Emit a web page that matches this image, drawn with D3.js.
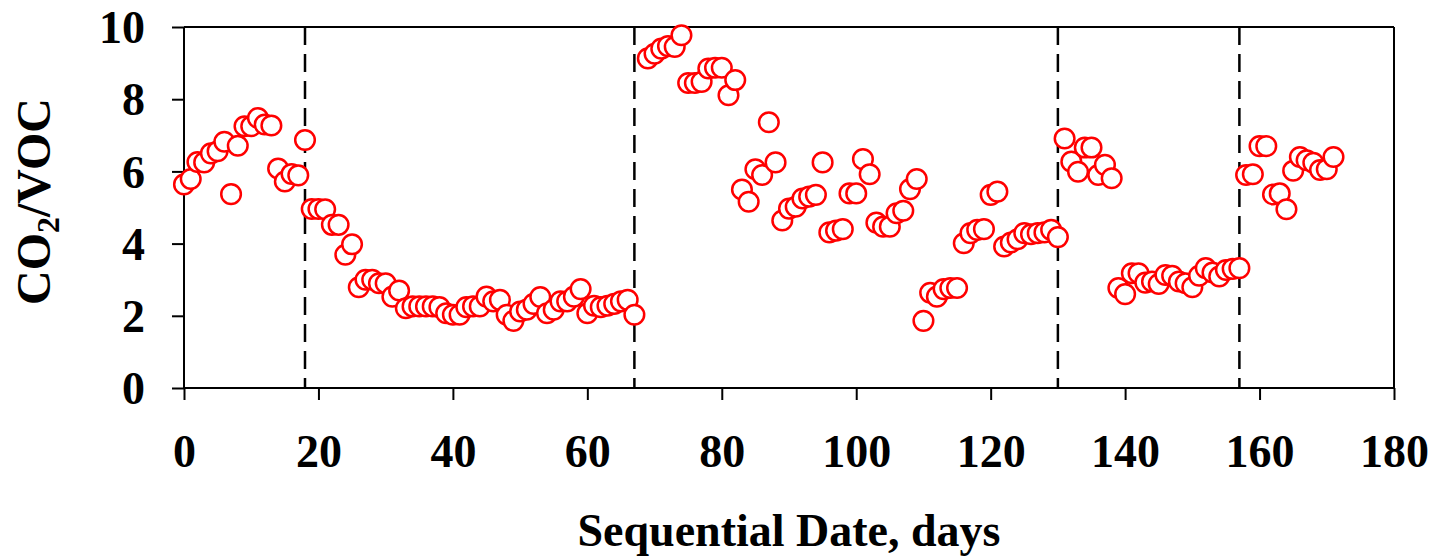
<!DOCTYPE html>
<html>
<head>
<meta charset="utf-8">
<script src="https://cdn.jsdelivr.net/npm/d3@7"></script>
<style>
  html, body { margin: 0; padding: 0; background: #fff; }
  svg { display: block; }
</style>
</head>
<body>
<svg id="chart" width="1433" height="560"></svg>
<script>
// ---- data ----
const days = [
  0,1,2,3,4,5,6,7,8,9,10,11,12,13,14,15,16,17,18,19,
  20,21,22,23,24,25,26,27,28,29,30,31,32,33,34,35,36,37,38,39,
  40,41,42,43,44,45,46,47,48,49,50,51,52,53,54,55,56,57,58,59,
  60,61,62,63,64,65,66,67,
  69,70,71,72,73,74,75,76,77,78,79,80,81,82,83,84,85,86,87,88,89,
  90,91,92,93,94,95,96,97,98,99,100,101,102,103,104,105,106,107,108,109,
  110,111,112,113,114,115,116,117,118,119,120,121,122,123,124,125,126,127,128,129,
  130,131,132,133,134,135,136,137,138,139,140,141,142,143,144,145,146,147,148,149,
  150,151,152,153,154,155,156,157,158,159,160,161,162,163,164,165,166,167,168,169,
  170,171
];
const ratio = [
  5.64,5.79,6.26,6.25,6.50,6.56,6.82,5.37,6.71,7.25,7.25,7.48,7.30,7.27,6.08,5.72,5.93,5.89,6.87,4.96,
  4.96,4.95,4.52,4.52,3.69,3.98,2.79,3.00,3.00,2.90,2.90,2.53,2.70,2.21,2.26,2.26,2.26,2.26,2.24,2.07,
  2.03,2.03,2.24,2.26,2.26,2.53,2.40,2.44,2.03,1.86,2.12,2.17,2.33,2.52,2.07,2.17,2.40,2.40,2.53,2.74,
  2.07,2.28,2.24,2.28,2.33,2.40,2.44,2.03,
  9.13,9.26,9.40,9.47,9.45,9.77,8.45,8.45,8.48,8.85,8.87,8.87,8.11,8.53,5.50,5.16,6.06,5.90,7.36,6.25,4.64,
  4.97,5.02,5.25,5.30,5.35,6.25,4.31,4.36,4.40,5.39,5.39,6.34,5.92,4.58,4.47,4.47,4.84,4.91,5.51,5.79,
  1.86,2.64,2.53,2.74,2.77,2.77,4.01,4.29,4.38,4.40,5.35,5.44,3.92,4.03,4.12,4.29,4.26,4.29,4.31,4.38,
  4.18,6.91,6.27,5.99,6.66,6.66,5.90,6.18,5.81,2.77,2.60,3.18,3.18,2.92,2.95,2.88,3.13,3.11,2.95,2.90,
  2.79,3.11,3.32,3.20,3.09,3.27,3.30,3.32,5.90,5.92,6.70,6.70,5.36,5.39,4.95,6.02,6.40,6.31,6.24,6.04,
  6.06,6.40
];
const phaseBreaks = [18, 67, 130, 157];
const xTicks = [0, 20, 40, 60, 80, 100, 120, 140, 160, 180];
const yTicks = [0, 2, 4, 6, 8, 10];
const xTitle = "Sequential Date, days";

// ---- layout ----
const svg = d3.select("#chart");
const pL = 184, pR = 1394, pT = 27, pB = 388;
const font = "'Liberation Serif', 'Times New Roman', serif";

const x = d3.scaleLinear().domain([0, 180]).range([pL, pR]);
const y = d3.scaleLinear().domain([0, 10]).range([pB, pT]);

// frame (top & right)
svg.append("line").attr("x1", pL).attr("x2", pR).attr("y1", pT).attr("y2", pT)
  .attr("stroke", "#000").attr("stroke-width", 2);
svg.append("line").attr("x1", pR).attr("x2", pR).attr("y1", pT).attr("y2", pB)
  .attr("stroke", "#000").attr("stroke-width", 2);

// axes
const xAxis = svg.append("g").attr("transform", `translate(0,${pB})`)
  .call(d3.axisBottom(x).tickValues(xTicks).tickSize(12).tickPadding(34).tickFormat(d3.format("d")));
const yAxis = svg.append("g").attr("transform", `translate(${pL},0)`)
  .call(d3.axisLeft(y).tickValues(yTicks).tickSize(12).tickPadding(27).tickFormat(d3.format("d")));

[xAxis, yAxis].forEach(g => {
  g.select(".domain").attr("stroke", "#000").attr("stroke-width", 2);
  g.selectAll(".tick line").attr("stroke", "#000").attr("stroke-width", 2);
  g.selectAll(".tick text").attr("fill", "#000")
    .style("font-family", font).style("font-weight", "bold").style("font-size", "46px");
});
yAxis.select(".domain").attr("d", `M0,${pB}V${pT}`);
xAxis.select(".domain").attr("d", `M${pL},0H${pR}`);
yAxis.selectAll(".tick text").attr("dy", "0.34em");
xAxis.selectAll(".tick text").attr("dy", "0.71em");

// phase break lines
svg.append("g").selectAll("line").data(phaseBreaks).join("line")
  .attr("x1", d => x(d)).attr("x2", d => x(d))
  .attr("y1", pT).attr("y2", pB)
  .attr("stroke", "#000").attr("stroke-width", 2.5).attr("stroke-dasharray", "18,9");

// points
svg.append("g").selectAll("circle").data(days.map((d, i) => [d, ratio[i]])).join("circle")
  .attr("cx", d => x(d[0])).attr("cy", d => y(d[1])).attr("r", 9.8)
  .attr("fill", "#fff").attr("stroke", "#ff0000").attr("stroke-width", 2.5);

// axis titles
svg.append("text").attr("x", (pL + pR) / 2).attr("y", 546)
  .attr("text-anchor", "middle")
  .style("font-family", font).style("font-weight", "bold").style("font-size", "46px")
  .text(xTitle);

const yt = svg.append("text")
  .attr("transform", `translate(50,${(pT + pB) / 2 - 6}) rotate(-90)`)
  .attr("text-anchor", "middle")
  .style("font-family", font).style("font-weight", "bold").style("font-size", "48px");
yt.append("tspan").text("CO");
yt.append("tspan").attr("dy", "0.28em").style("font-size", "32px").text("2");
yt.append("tspan").attr("dy", "-0.19em").text("/VOC");
</script>
</body>
</html>
